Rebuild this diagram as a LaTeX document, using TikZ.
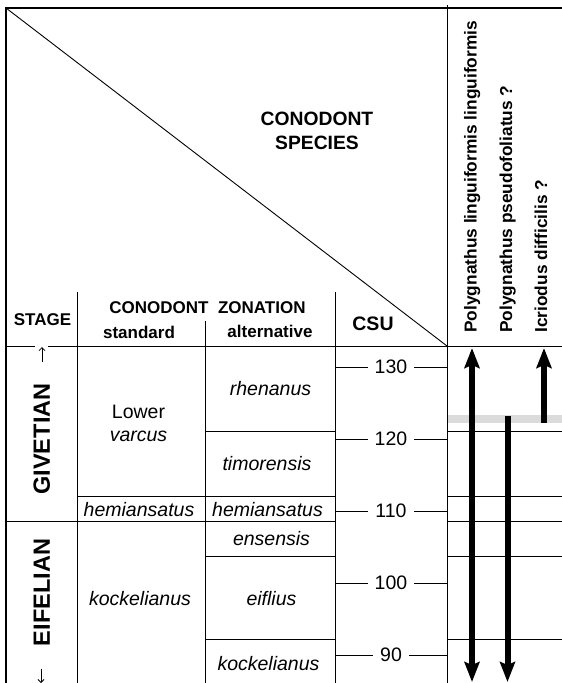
\documentclass[tikz,border=0pt]{standalone}
\usepackage{fontspec}
\setmainfont{Liberation Sans}
\usetikzlibrary{arrows.meta}

\begin{document}
\begin{tikzpicture}
  [x=1pt,y=-1pt,line width=0.9pt,
   every node/.style={inner sep=0pt},
   >={Stealth[length=20pt,width=15pt,inset=3pt]},
   hdr/.style={font=\fontsize{17}{20}\selectfont\bfseries,anchor=base},
   zone/.style={font=\fontsize{19.5}{22.5}\selectfont\itshape,anchor=base},
   stagelbl/.style={font=\fontsize{23.5}{26}\selectfont\bfseries,rotate=90},
   species/.style={font=\fontsize{17.3}{20}\selectfont\bfseries,rotate=90,anchor=base west},
   csutick/.style={font=\fontsize{19.5}{22}\selectfont,fill=white,inner xsep=7pt,inner ysep=1pt},
   sprange/.style={line width=6pt},
   stagearr/.style={line width=0.8pt,-{Straight Barb[length=3pt,width=6pt]}}]
  \useasboundingbox (0,0) rectangle (562,683);
  \fill[black!14] (447,415) rectangle (562,423);
  \draw[line width=2.3pt] (5,8) -- (562,8);
  \draw[line width=2.3pt] (6,7) -- (6,683);
  \draw (6,8) -- (447,346);
  \draw (447,5) -- (447,683);
  \draw (6,346) -- (35,346);
  \draw (48,346) -- (562,346);
  \draw (77,292) -- (77,683);
  \draw (205,321) -- (205,683);
  \draw (335,292) -- (335,683);
  \foreach \y/\xa in {431/205,496/77,521/6,556/205,639/205} {
    \draw (\xa,\y) -- (335,\y);
    \draw (447,\y) -- (562,\y);
  }
  \foreach \v/\y in {130/367,120/439,110/511,100/583,90/655} {
    \draw (335,\y) -- (447,\y);
    \node[csutick] (csu\v) at (391,\y) {\v};
  }
  \node[align=center,font=\fontsize{19.3}{23.3}\selectfont\bfseries] (species) at (317,131) {CONODONT\\SPECIES};
  \node[hdr] (stage) at (42.5,325) {STAGE};
  \node[hdr] (zonation) at (207.5,313) {CONODONT\ \ ZONATION};
  \node[hdr] (std) at (139,338) {standard};
  \node[hdr] (alt) at (270,337) {alternative};
  \node[hdr,font=\fontsize{19.5}{22}\selectfont\bfseries] (csu) at (373,330) {CSU};
  \node[species] (pll) at (476.5,333) {Polygnathus linguiformis linguiformis};
  \node[species] (pps) at (512,333) {Polygnathus pseudofoliatus ?};
  \node[species] (idf) at (547,333) {Icriodus difficilis ?};
  \node[stagelbl] (giv) at (41.7,439) {GIVETIAN};
  \node[stagelbl] (eif) at (41.7,592.5) {EIFELIAN};
  \coordinate (giv top) at (42,362);
  \coordinate (giv end) at (42,347);
  \coordinate (eif top) at (41,669);
  \coordinate (eif end) at (41,683);
  \draw[stagearr] (giv top) -- (giv end);
  \draw[stagearr] (eif top) -- (eif end);
  \node[align=center,font=\fontsize{19.5}{22.5}\selectfont] (lowvarc) at (138.5,423.5) {Lower\\\textit{varcus}};
  \node[zone] (hemstd) at (139,516.5) {hemiansatus};
  \node[zone] (kockstd) at (140,605) {kockelianus};
  \node[zone] (rhen) at (270.5,395) {rhenanus};
  \node[zone] (timor) at (267,470) {timorensis};
  \node[zone] (hemalt) at (267.5,516.5) {hemiansatus};
  \node[zone] (ensen) at (271.5,545) {ensensis};
  \node[zone] (eifl) at (271.5,605) {eiflius};
  \node[zone] (kockalt) at (268.5,670) {kockelianus};
  \coordinate (pll top) at (472,348);
  \coordinate (pll bot) at (472,682);
  \coordinate (pps top) at (507.5,415.7);
  \coordinate (pps bot) at (507.5,682);
  \coordinate (idf top) at (544,348);
  \coordinate (idf bot) at (544,422.5);
  \draw[sprange,<->] (pll bot) -- (pll top);
  \draw[sprange,->] (pps top) -- (pps bot);
  \draw[sprange,->] (idf bot) -- (idf top);
\end{tikzpicture}
\end{document}
